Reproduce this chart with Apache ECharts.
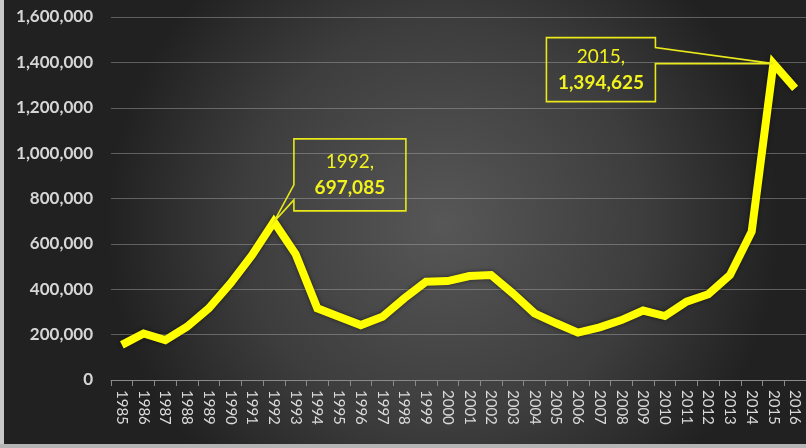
<!DOCTYPE html>
<html>
<head>
<meta charset="utf-8">
<script src="https://cdn.jsdelivr.net/npm/echarts@6/dist/echarts.min.js"></script>
<style>
html,body{margin:0;padding:0;background:#2a2a2a;}
#chart{width:806px;height:448px;}
</style>
</head>
<body>
<div id="chart"></div>
<script>
const years = ['1985','1986','1987','1988','1989','1990','1991','1992','1993','1994','1995','1996','1997','1998','1999','2000','2001','2002','2003','2004','2005','2006','2007','2008','2009','2010','2011','2012','2013','2014','2015','2016'];
const values = [155000,205000,176000,235000,316000,426000,551000,697085,555000,316000,279000,242000,279000,360000,433000,436000,458000,463000,382000,294000,250000,209000,232000,264000,306000,282000,345000,378000,463000,654000,1394625,1285000];
const yTicks = [0,200000,400000,600000,800000,1000000,1200000,1400000,1600000];
const calloutYears = ['1992','2015'];

const chart = echarts.init(document.getElementById('chart'));
const fmt = v => v.toLocaleString('en-US');
const calloutData = calloutYears.map(y => [y, values[years.indexOf(y)]]);
const TXT = '#f2f21e';

function renderCallout(params, api) {
  const idx = params.dataIndexInside;
  const p = api.coord([api.value(0), api.value(1)]);
  const yr = years[api.value(0)];
  const val = fmt(api.value(1));
  let L, T, R, B, pts;
  if (idx === 0) {
    L = p[0] + 20; T = p[1] - 83; R = L + 112; B = T + 72;
    pts = [[L, T], [R, T], [R, B], [L, B], [L, p[1] - 22], [p[0], p[1]], [L, p[1] - 37]];
  } else {
    L = p[0] - 227; T = p[1] - 26; R = L + 109; B = T + 64;
    pts = [[L, T], [R, T], [R, p[1] - 16], [p[0], p[1]], [R, p[1]], [R, B], [L, B]];
  }
  const cx = (L + R) / 2, cy = (T + B) / 2;
  return {
    type: 'group',
    children: [
      { type: 'polygon', shape: { points: pts }, style: { fill: 'rgba(0,0,0,0)', stroke: '#e8e81a', lineWidth: 1.6 } },
      { type: 'text', x: cx, y: cy - 13,
        style: { text: yr + ',', fill: TXT, font: '19px Lato', align: 'center', verticalAlign: 'middle' } },
      { type: 'text', x: cx, y: cy + 13,
        style: { text: val, fill: TXT, font: 'bold 19px Lato', align: 'center', verticalAlign: 'middle' } }
    ]
  };
}

chart.setOption({
  backgroundColor: {
    type: 'radial', x: 0.55, y: 0.5, r: 0.75,
    colorStops: [{ offset: 0, color: '#575757' }, { offset: 0.6, color: '#3d3d3d' }, { offset: 1, color: '#212121' }]
  },
  animation: false,
  graphic: [
    { type: 'rect', shape: { x: 0, y: 0, width: 4, height: 448 }, style: { fill: '#c9c9c9' } },
    { type: 'rect', shape: { x: 0, y: 444, width: 806, height: 4 }, style: { fill: '#b5b5b5' } }
  ],
  grid: { left: 111, right: -7, top: 17, bottom: 68 },
  xAxis: {
    type: 'category', data: years, boundaryGap: true,
    axisLine: { lineStyle: { color: '#8a8a8a', width: 1 } },
    axisTick: { show: true, length: 6, lineStyle: { color: '#8a8a8a' } },
    axisLabel: { rotate: -90, margin: 10, color: '#dadada', fontFamily: 'Lato', fontSize: 15 },
    splitLine: { show: false }
  },
  yAxis: {
    type: 'value', min: 0, max: 1600000, interval: 200000,
    axisLine: { show: false }, axisTick: { show: false },
    axisLabel: { margin: 18, color: '#d6d6d6', fontFamily: 'Lato', fontWeight: 'bold', fontSize: 17,
      formatter: v => yTicks.includes(v) ? fmt(v) : '' },
    splitLine: { lineStyle: { color: 'rgba(170,170,170,0.45)', width: 1 } }
  },
  series: [
    { type: 'line', data: values, symbol: 'none', z: 3,
      lineStyle: { color: '#ffff00', width: 8, join: 'miter', shadowColor: 'rgba(0,0,0,0.55)', shadowBlur: 4 } },
    { type: 'custom', data: calloutData, renderItem: renderCallout, z: 4, clip: false }
  ]
});
</script>
</body>
</html>
